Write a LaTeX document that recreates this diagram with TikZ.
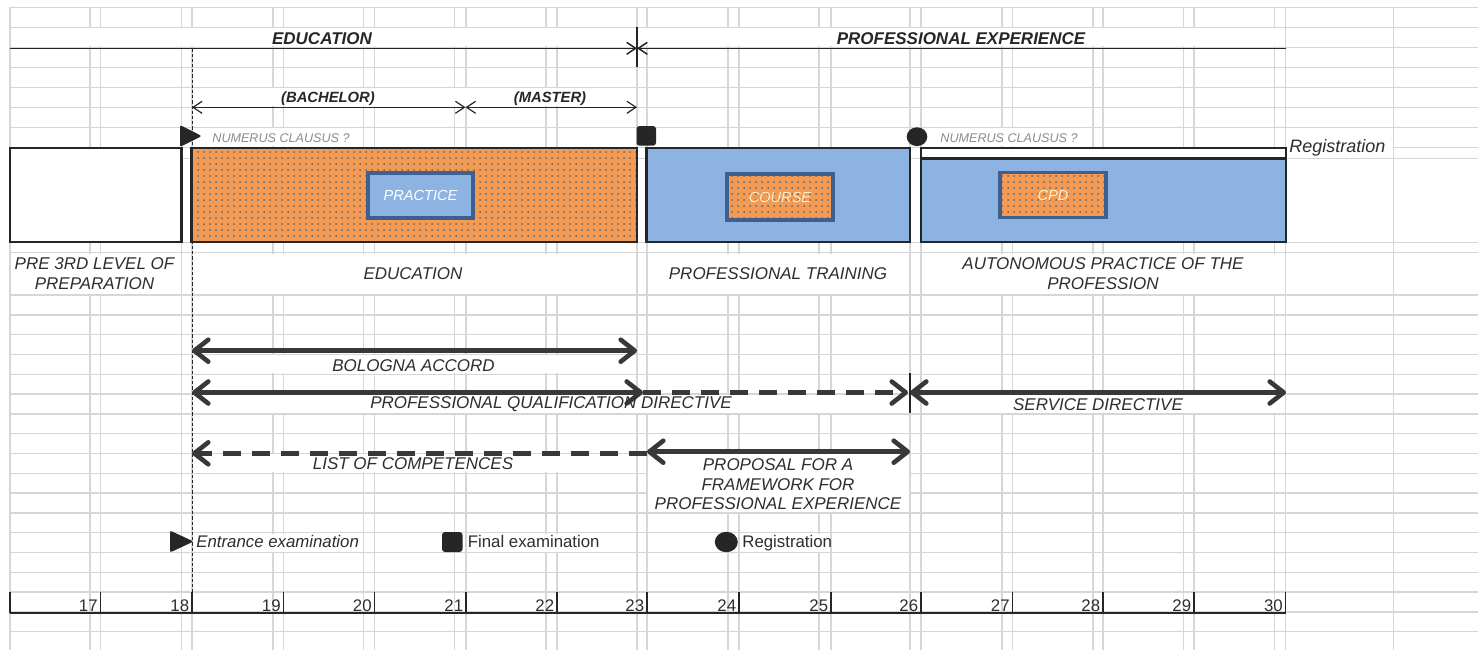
\documentclass[tikz,border=0pt]{standalone}
\usepackage{fontspec}
\setmainfont{Liberation Sans}
\usetikzlibrary{arrows.meta,patterns}
\definecolor{gridc}{HTML}{D6D6D6}
\definecolor{orng}{HTML}{F39B55}
\definecolor{blu}{HTML}{8DB3E2}
\definecolor{bluedge}{HTML}{3F5F8F}
\definecolor{dk}{HTML}{262626}
\definecolor{txt}{HTML}{2E2E2E}
\definecolor{arr}{HTML}{383838}
\definecolor{ncg}{HTML}{8A8A8A}
\definecolor{cream}{HTML}{FFF0C8}
\newcommand\wpatch[4]{\fill[white] ({#1+0.9},{#3+0.9}) rectangle ({#2-0.9},{#4-0.9});}
\begin{document}
\begin{tikzpicture}[x=0.5pt,y={(0pt,-0.5pt)},
  gridline/.style={draw=gridc,line width=0.7pt},
  ttl/.style={font=\fontsize{8.5}{10}\selectfont\bfseries\itshape,text=dk,inner sep=0pt},
  subt/.style={font=\fontsize{7.4}{9}\selectfont\bfseries\itshape,text=dk,inner sep=0pt},
  lbl/.style={font=\fontsize{8.5}{9.75}\selectfont\itshape,text=txt,align=center,inner sep=0pt},
  ncl/.style={font=\fontsize{6.3}{7}\selectfont\itshape,text=ncg,anchor=west,inner sep=0pt},
  boxt/.style={font=\fontsize{7.3}{8}\selectfont\itshape,inner sep=0pt},
  leg/.style={font=\fontsize{8.4}{10}\selectfont,text=txt,anchor=base west,inner sep=0pt},
  num/.style={font=\fontsize{8.4}{10}\selectfont,text=txt,anchor=base east,inner sep=0pt},
  bigbox/.style={draw=dk,line width=1.1pt},
  inbox/.style={draw=bluedge,line width=1.6pt},
  thinl/.style={draw=dk,line width=0.75pt},
  thtip/.style={-{Straight Barb[length=4.5pt,width=6pt]}},
  tharr/.style={thinl,{Straight Barb[length=4.5pt,width=6pt]}-{Straight Barb[length=4.5pt,width=6pt]}},
  fatline/.style={draw=arr,line width=2.3pt},
  fattip/.style={-{Straight Barb[length=7pt,width=11pt,round]}},
  fat/.style={fatline,{Straight Barb[length=7pt,width=11pt,round]}-{Straight Barb[length=7pt,width=11pt,round]}},
  fatdash/.style={dash pattern=on 9pt off 5.5pt}
]
\useasboundingbox (0,0) rectangle (1478,650);
\fill[white] (0,0) rectangle (1478,650);
% grid
\foreach \y in {7.3,27.3,47.3,67.3,87.3,107.3,127.3,147.3,158.7,242.7,252.7,295,314.8,334.6,354.4,374.2,394,413.8,433.6,453.4,473.2,493,512.8,532.6,552.4,572.2,592,611.8,631.6}
  \draw[gridline] (10,\y) -- (1478,\y);
\foreach \x in {10,90,100.5,181.5,192,273,283.5,363.5,374.5,454.5,466,546,557,637,647,728,739,819,831,910,921,1002,1012.5,1093,1103,1183.5,1194,1274.5,1285.6,1393.5}
  \draw[gridline] (\x,7.3) -- (\x,650);
% merged cells
\wpatch{10}{1286}{27.3}{47.3}
\wpatch{192}{637}{87.3}{107.3}
\wpatch{200}{350}{127.3}{147.3}
\wpatch{935}{1080}{127.3}{147.3}
\wpatch{1285.6}{1393.5}{127.3}{158.7}
\wpatch{10}{181.5}{252.7}{295}
\wpatch{192}{637}{252.7}{295}
\wpatch{647}{910}{252.7}{295}
\wpatch{921}{1285.6}{252.7}{295}
\wpatch{192}{637}{354.4}{374.2}
\wpatch{192}{910}{394}{413.8}
\wpatch{921}{1285.6}{394}{413.8}
\wpatch{192}{637}{453.4}{473.2}
\wpatch{647}{910}{453.4}{512.8}
\wpatch{192}{363.5}{532.6}{552.4}
\wpatch{466}{637}{532.6}{552.4}
\wpatch{739}{831}{532.6}{552.4}
% dashed vertical at 18
\coordinate (d0) at (192,48.3);
\coordinate (d1) at (192,592);
\draw[dk,line width=0.45pt,dash pattern=on 1.6pt off 1pt] (d0) -- (d1);
% boxes
\draw[bigbox,fill=white] (10,148.3) rectangle (181.5,242.3);
\fill[orng] (191.5,148.3) rectangle (637,242.3);
\fill[pattern=dots,pattern color=black!60] (191.5,148.3) rectangle (637,242.3);
\draw[bigbox] (191.5,148.3) rectangle (637,242.3);
\draw[bigbox,fill=blu] (646.5,148.3) rectangle (910,242.3);
\draw[bigbox,fill=white] (921,148.3) rectangle (1285.6,158.5);
\draw[bigbox,fill=blu] (921,159.2) rectangle (1285.6,242.3);
\draw[inbox,fill=blu] (368,173) rectangle (473,218);
\fill[orng] (727,174) rectangle (833,220);
\fill[pattern=dots,pattern color=black!60] (727,174) rectangle (833,220);
\draw[inbox] (727,174) rectangle (833,220);
\fill[orng] (1000,172.7) rectangle (1106,217.7);
\fill[pattern=dots,pattern color=black!60] (1000,172.7) rectangle (1106,217.7);
\draw[inbox] (1000,172.7) rectangle (1106,217.7);
\node[boxt,text=white] (tPractice) at (420.5,195.5) {PRACTICE};
\node[boxt,text=cream] (tCourse) at (780,197) {COURSE};
\node[boxt,text=cream] (tCpd) at (1053,195.2) {CPD};
% markers
\fill[dk,rounded corners=1pt] (180,125) -- (201.7,136) -- (180,147) -- cycle;
\fill[dk,rounded corners=1.5pt] (636.5,126) rectangle (656,145.7);
\fill[dk] (917,136.7) ellipse [x radius=5.15pt,y radius=4.7pt];
\fill[dk,rounded corners=1pt] (170,530.5) -- (193.5,541.5) -- (170,552.5) -- cycle;
\fill[dk,rounded corners=1.5pt] (442,532) rectangle (462.5,552);
\fill[dk] (726.3,542) ellipse [x radius=5.75pt,y radius=5.1pt];
% top lines
\coordinate (e0) at (10,48.3);
\coordinate (e1) at (637,48.3);
\coordinate (e2) at (1286,48.3);
\coordinate (v0) at (637,27);
\coordinate (v1) at (637,67);
\draw[thinl,thtip] (e0) -- (e1);
\draw[thinl,thtip] (e2) -- (e1);
\draw[thinl] (v0) -- (v1);
\coordinate (ba0) at (192,107.3);
\coordinate (ba1) at (465.5,107.3);
\coordinate (ba2) at (637,107.3);
\draw[tharr,line width=0.6pt] (ba0) -- (ba1);
\draw[tharr,line width=0.6pt] (ba1) -- (ba2);
% fat arrows
\coordinate (bo0) at (192,350.7);
\coordinate (bo1) at (637,350.7);
\draw[fat] (bo0) -- (bo1);
\coordinate (q0) at (192,392.5);
\coordinate (q1) at (643,392.5);
\coordinate (q2) at (908,392.5);
\coordinate (s0) at (910,392.5);
\coordinate (s1) at (1286,392.5);
\draw[fat] (q0) -- (q1);
\draw[fatline,fatdash,fattip] (q1) -- (q2);
\draw[fat] (s0) -- (s1);
\coordinate (vq0) at (910,373);
\coordinate (vq1) at (910,413);
\draw[dk,line width=0.6pt] (vq0) -- (vq1);
\coordinate (li0) at (192,453.3);
\coordinate (li1) at (647,453.3);
\draw[fatline,fatdash,fattip] (li1) -- (li0);
\coordinate (pr0) at (647,451.7);
\coordinate (pr1) at (910,451.7);
\draw[fat] (pr0) -- (pr1);
% axis
\coordinate (ax0) at (10,613);
\coordinate (ax1) at (1286,613);
\draw[dk,line width=1pt] (ax0) -- (ax1);
\foreach \x in {10,100.5,192,283.5,374.5,466,557,647,739,831,921,1012.5,1103,1194,1285.6}
  \draw[dk,line width=0.7pt] (\x,592) -- (\x,613);
\foreach \n/\x in {17/100.5,18/192,19/283.5,20/374.5,21/466,22/557,23/647,24/739,25/831,26/921,27/1012.5,28/1103,29/1194,30/1285.6}
  \node[num] (n\n) at ({\x-2.5},611.5) {\n};
% titles
\node[ttl] (tEdu) at (322,38.3) {EDUCATION};
\node[ttl] (tPro) at (961,39) {PROFESSIONAL EXPERIENCE};
\node[subt] (tBach) at (328,99) {(BACHELOR)};
\node[subt] (tMast) at (550,99) {(MASTER)};
\node[ncl] (nc1) at (212,138) {NUMERUS CLAUSUS ?};
\node[ncl] (nc2) at (940,138.5) {NUMERUS CLAUSUS ?};
\node[font=\fontsize{9}{10}\selectfont\itshape,text=txt,anchor=base west,inner sep=0pt] (reg) at (1289,152) {Registration};
% label row
\node[lbl] (lPre) at (94.5,273.7) {PRE 3RD LEVEL OF\\PREPARATION};
\node[lbl] (lEdu) at (413,274) {EDUCATION};
\node[lbl] (lTrain) at (778,274) {PROFESSIONAL TRAINING};
\node[lbl] (lAuto) at (1103,273.7) {AUTONOMOUS PRACTICE OF THE\\PROFESSION};
% arrow labels
\node[lbl] (aBol) at (413.5,365.5) {BOLOGNA ACCORD};
\node[lbl] (aPqd) at (551,404) {PROFESSIONAL QUALIFICATION DIRECTIVE};
\node[lbl] (aSrv) at (1098,405) {SERVICE DIRECTIVE};
\node[lbl] (aList) at (413,464) {LIST OF COMPETENCES};
\node[lbl] (aProp) at (778,484.5) {PROPOSAL FOR A\\FRAMEWORK FOR\\PROFESSIONAL EXPERIENCE};
% legend
\node[leg,font=\fontsize{8.4}{10}\selectfont\itshape] (gEnt) at (196,547.5) {Entrance examination};
\node[leg] (gFin) at (467.5,547.5) {Final examination};
\node[leg] (gReg) at (742,547.5) {Registration};
\end{tikzpicture}
\end{document}
